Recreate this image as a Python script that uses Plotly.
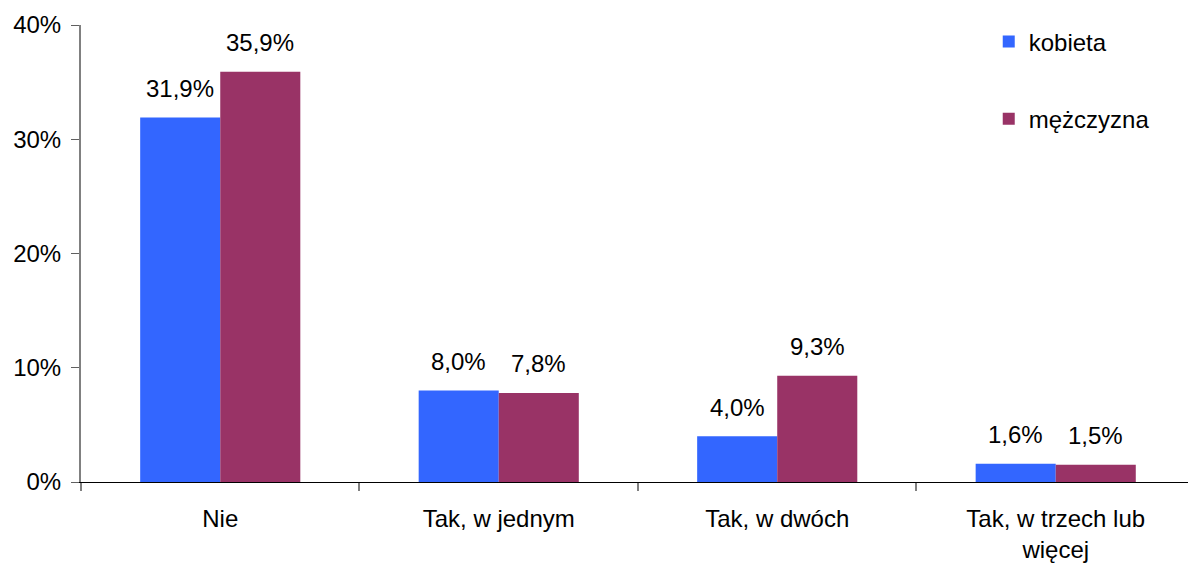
import plotly.graph_objects as go

categories = ["Nie", "Tak, w jednym", "Tak, w dwóch", "Tak, w trzech lub<br>więcej"]
kobieta = [31.9, 8.0, 4.0, 1.6]
mezczyzna = [35.9, 7.8, 9.3, 1.5]
series_names = ["kobieta", "mężczyzna"]
colors = ["#3366FF", "#993366"]
ytick_vals = [0, 10, 20, 30, 40]
ytick_text = [f"{v}%" for v in ytick_vals]

FONT = "Liberation Sans, Arial, sans-serif"
FS = 24

fig = go.Figure()
for i, (name, vals) in enumerate(zip(series_names, [kobieta, mezczyzna])):
    fig.add_trace(go.Bar(
        x=categories, y=vals, name=name, marker_color=colors[i],
        marker_line_width=0, legendgroup=name,
    ))

annotations = []
for i, vals in enumerate([kobieta, mezczyzna]):
    for cat, v in zip(categories, vals):
        annotations.append(dict(
            x=cat, y=v, xref="x", yref="y",
            text=f"{v:.1f}%".replace(".", ","),
            showarrow=False, xshift=(-40 if i == 0 else 40), yshift=29,
            yanchor="middle", xanchor="center",
            font=dict(family=FONT, size=FS, color="black"),
        ))

fig.update_layout(
    width=1188, height=563,
    margin=dict(l=81, r=0, t=25, b=81, autoexpand=False),
    plot_bgcolor="white", paper_bgcolor="white",
    barmode="group", bargap=0.425, bargroupgap=0,
    separators=", ",
    font=dict(family=FONT, size=FS, color="black"),
    annotations=annotations,
    showlegend=True,
    legend=dict(x=0.82, y=1.012, xanchor="left", yanchor="top",
                tracegroupgap=43, font=dict(family=FONT, size=FS),
                bgcolor="rgba(0,0,0,0)"),
)
fig.update_xaxes(
    range=[-0.5, 3.475], showline=True, linecolor="black", linewidth=1,
    ticks="outside", tickson="boundaries", ticklen=8, tickwidth=2,
    tickcolor="#808080", ticklabelstandoff=15, showgrid=False,
    tickfont=dict(family=FONT, size=FS), automargin=False,
)
fig.update_yaxes(
    range=[0, 40], tickmode="array", tickvals=ytick_vals, ticktext=ytick_text,
    showline=True, linecolor="#808080", linewidth=2,
    ticks="outside", ticklen=8, tickwidth=1, tickcolor="#606060",
    ticklabelstandoff=5, showgrid=False, zeroline=False,
    tickfont=dict(family=FONT, size=FS), automargin=False,
)

fig.write_html("out.html", config={"displayModeBar": False},
               post_script="document.body.style.margin='0';")
